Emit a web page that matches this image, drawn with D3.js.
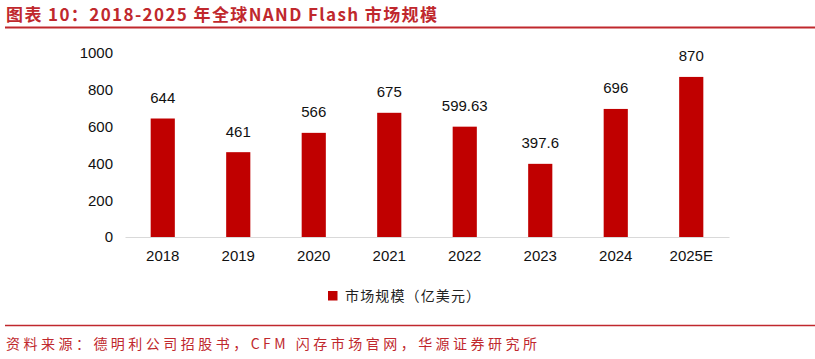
<!DOCTYPE html>
<html><head><meta charset="utf-8">
<script src="https://cdn.jsdelivr.net/npm/d3@7"></script>
<style>
body{margin:0;background:#fff;}
svg{display:block;}
</style></head>
<body>
<svg id="c" width="815" height="359"></svg>
<script>
const categories = ["2018","2019","2020","2021","2022","2023","2024","2025E"];
const values = [644, 461, 566, 675, 599.63, 397.6, 696, 870];
const valueLabels = ["644","461","566","675","599.63","397.6","696","870"];
const yTicks = [0, 200, 400, 600, 800, 1000];
const seriesName = "市场规模（亿美元）";
const titleText = "图表 10：2018-2025 年全球NAND Flash 市场规模";
const sourceText = "资料来源：德明利公司招股书，CFM 闪存市场官网，华源证券研究所";

const svg = d3.select("#c");
const red = "#c00000";
const hdr = "#c0282d";
const font = "Liberation Sans, Arial, sans-serif";
const cjk = "'Noto Sans CJK SC', sans-serif";

// title
svg.append("text").attr("x", 6).attr("y", 21)
  .attr("font-family", cjk).attr("font-weight", "bold").attr("font-size", 17)
  .attr("textLength", 431).attr("lengthAdjust", "spacing")
  .attr("fill", hdr).text(titleText);
svg.append("line").attr("x1", 5).attr("x2", 815).attr("y1", 27.5).attr("y2", 27.5)
  .attr("stroke", hdr).attr("stroke-width", 2);

const x = d3.scaleBand().domain(categories).range([125, 729]).paddingInner(0.68).paddingOuter(0.34);
const y = d3.scaleLinear().domain([0, 1000]).range([237, 53]);

// y axis labels
const ya = svg.append("g").attr("transform", "translate(113,0)")
  .call(d3.axisLeft(y).tickValues(yTicks).tickSize(0).tickPadding(0).tickFormat(d3.format("d")));
ya.select(".domain").remove();
ya.selectAll("text").attr("font-family", font).attr("font-size", 15).attr("fill", "#111");

// bars
svg.append("g").selectAll("rect").data(values).join("rect")
  .attr("x", (d, i) => x(categories[i]))
  .attr("width", x.bandwidth())
  .attr("y", d => y(d))
  .attr("height", d => y(0) - y(d))
  .attr("fill", red);

// x axis
const xa = svg.append("g").attr("transform", `translate(0,${y(0)})`)
  .call(d3.axisBottom(x).tickSize(0).tickPadding(13));
xa.select(".domain").attr("stroke", "#d9d9d9").attr("stroke-width", 1.2);
xa.selectAll("text").attr("font-family", font).attr("font-size", 15).attr("fill", "#111");

// value labels
svg.append("g").selectAll("text").data(values).join("text")
  .attr("x", (d, i) => x(categories[i]) + x.bandwidth() / 2)
  .attr("y", d => y(d) - 15.5)
  .attr("text-anchor", "middle")
  .attr("font-family", font).attr("font-size", 15).attr("fill", "#111")
  .text((d, i) => valueLabels[i]);

// legend
svg.append("rect").attr("x", 328).attr("y", 291).attr("width", 9.5).attr("height", 9.5).attr("fill", red);
svg.append("text").attr("x", 345).attr("y", 301)
  .attr("font-family", cjk).attr("font-size", 14).attr("fill", "#222")
  .attr("textLength", 135).attr("lengthAdjust", "spacing").text(seriesName);

// footer
svg.append("line").attr("x1", 5).attr("x2", 815).attr("y1", 325.5).attr("y2", 325.5)
  .attr("stroke", hdr).attr("stroke-width", 1.5);
svg.append("text").attr("x", 6).attr("y", 349)
  .attr("font-family", cjk).attr("font-size", 14).attr("fill", hdr)
  .attr("textLength", 531).attr("lengthAdjust", "spacing").text(sourceText);
</script>
</body></html>
